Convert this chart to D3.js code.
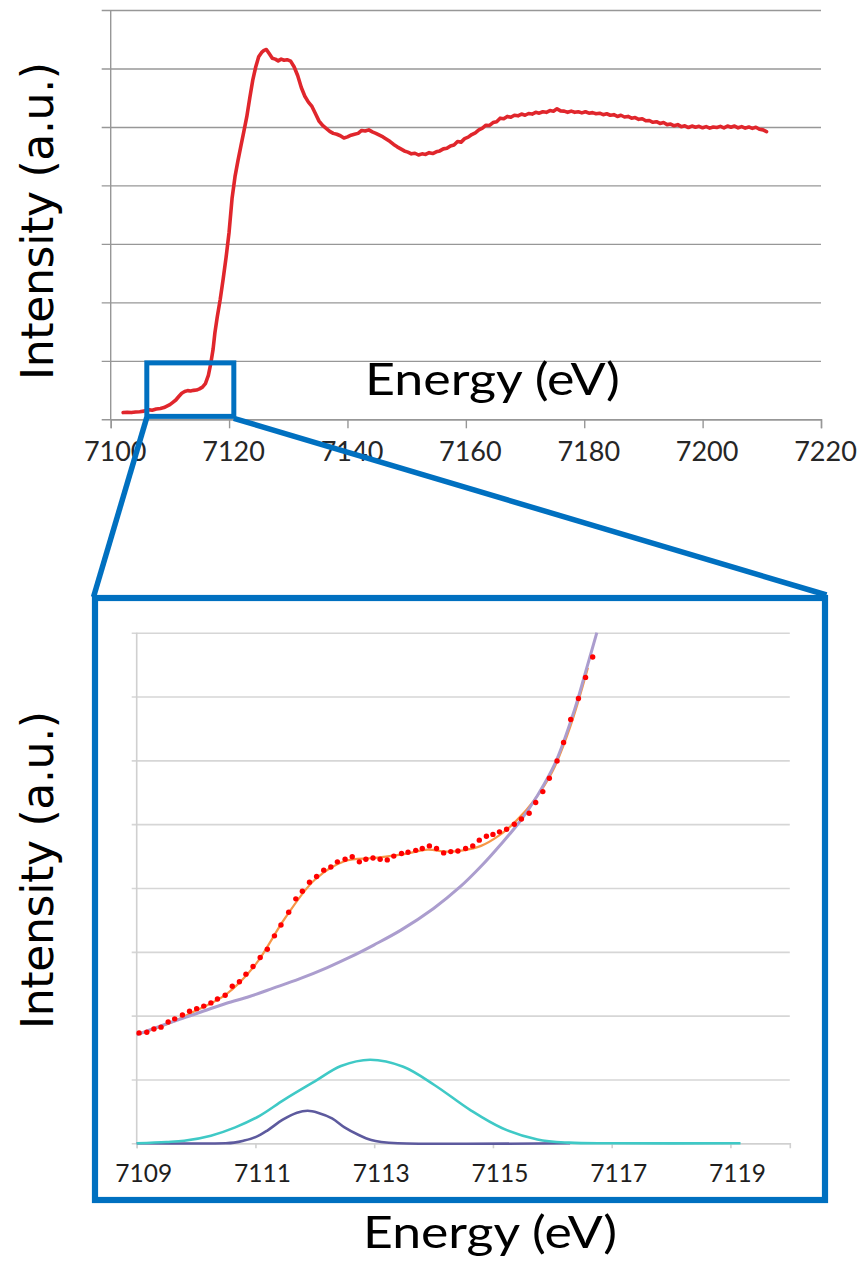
<!DOCTYPE html>
<html>
<head>
<meta charset="utf-8">
<script src="https://cdn.jsdelivr.net/npm/d3@7"></script>
<style>
  html, body { margin: 0; padding: 0; background: #ffffff; }
  svg { display: block; }
</style>
</head>
<body>
<svg id="fig" width="860" height="1263"></svg>
<script>
// ---------- Full Fe K-edge scan (normalised intensity) ----------
const scanEnergy = [
  7102.1, 7102.8, 7103.5, 7104.2, 7104.9, 7105.6, 7106.3, 7107.0, 7107.7, 7108.4,
  7109.0, 7109.5, 7110.0, 7110.5, 7111.0, 7111.5, 7112.0, 7112.5, 7113.0, 7113.5,
  7114.0, 7114.5, 7115.0, 7115.5, 7116.0, 7116.5, 7116.9, 7117.3, 7117.6, 7118.0,
  7118.5, 7119.0, 7119.5, 7120.0, 7120.5, 7121.0, 7121.5, 7122.0, 7122.5, 7123.0,
  7123.5, 7124.0, 7124.5, 7125.0, 7125.5, 7125.9, 7126.3, 7126.8, 7127.3, 7127.8,
  7128.3, 7128.8, 7129.3, 7129.8, 7130.4, 7131.0, 7131.6, 7132.2, 7132.8, 7133.4,
  7134.0, 7134.6, 7135.2, 7135.8, 7136.4, 7137.0, 7137.6, 7138.2, 7138.8, 7139.4,
  7140.0, 7140.6, 7141.2, 7141.8, 7142.4, 7143.0, 7143.6, 7144.2, 7144.8, 7145.4,
  7146.0, 7146.6, 7147.2, 7147.8, 7148.4, 7149.0, 7149.6, 7150.2, 7150.8, 7151.4,
  7152.0, 7152.6, 7153.2, 7153.8, 7154.4, 7155.0, 7155.6, 7156.2, 7156.8, 7157.4,
  7158.0, 7158.6, 7159.2, 7159.8, 7160.4, 7161.0, 7161.6, 7162.2, 7162.8, 7163.4,
  7164.0, 7164.6, 7165.2, 7165.8, 7166.4, 7167.0, 7167.6, 7168.2, 7168.8, 7169.4,
  7170.0, 7170.6, 7171.2, 7171.8, 7172.4, 7173.0, 7173.6, 7174.2, 7174.8, 7175.4,
  7176.0, 7176.6, 7177.2, 7177.8, 7178.4, 7179.0, 7179.6, 7180.2, 7180.8, 7181.4,
  7182.0, 7182.6, 7183.2, 7183.8, 7184.4, 7185.0, 7185.6, 7186.2, 7186.8, 7187.4,
  7188.0, 7188.6, 7189.2, 7189.8, 7190.4, 7191.0, 7191.6, 7192.2, 7192.8, 7193.4,
  7194.0, 7194.6, 7195.2, 7195.8, 7196.4, 7197.0, 7197.6, 7198.2, 7198.8, 7199.4,
  7200.0, 7200.6, 7201.2, 7201.8, 7202.4, 7203.0, 7203.6, 7204.2, 7204.8, 7205.4,
  7206.0, 7206.6, 7207.2, 7207.8, 7208.4, 7209.0, 7209.6, 7210.2, 7210.8
];
const scanIntensity = [
  0.023, 0.024, 0.023, 0.025, 0.026, 0.028, 0.033, 0.031, 0.035, 0.037,
  0.040, 0.045, 0.050, 0.058, 0.066, 0.078, 0.089, 0.095, 0.098, 0.097,
  0.099, 0.100, 0.104, 0.110, 0.122, 0.150, 0.190, 0.240, 0.295, 0.350,
  0.410, 0.480, 0.555, 0.640, 0.755, 0.830, 0.885, 0.935, 0.985, 1.036,
  1.100, 1.160, 1.205, 1.240, 1.255, 1.262, 1.265, 1.250, 1.235, 1.232,
  1.226, 1.232, 1.228, 1.230, 1.225, 1.205, 1.175, 1.135, 1.105, 1.085,
  1.070, 1.045, 1.020, 1.005, 0.995, 0.985, 0.978, 0.975, 0.970, 0.962,
  0.966, 0.972, 0.975, 0.978, 0.988, 0.986, 0.990, 0.983, 0.978, 0.972,
  0.966, 0.958, 0.950, 0.940, 0.932, 0.925, 0.918, 0.914, 0.908, 0.910,
  0.904, 0.908, 0.906, 0.912, 0.909, 0.915, 0.918, 0.925, 0.927, 0.935,
  0.938, 0.950, 0.948, 0.960, 0.965, 0.974, 0.980, 0.990, 0.996, 1.006,
  1.005, 1.015, 1.018, 1.030, 1.028, 1.036, 1.033, 1.040, 1.038, 1.044,
  1.040, 1.046, 1.044, 1.050, 1.047, 1.052, 1.050, 1.056, 1.054, 1.062,
  1.055, 1.054, 1.050, 1.054, 1.050, 1.052, 1.048, 1.052, 1.047, 1.049,
  1.045, 1.047, 1.042, 1.045, 1.040, 1.042, 1.036, 1.040, 1.034, 1.036,
  1.030, 1.032, 1.026, 1.028, 1.021, 1.022, 1.016, 1.018, 1.012, 1.015,
  1.008, 1.010, 1.004, 1.008, 1.001, 1.004, 0.998, 1.003, 0.999, 1.002,
  0.997, 1.001, 0.996, 1.000, 0.998, 1.002, 0.997, 1.003, 0.999, 1.003,
  0.997, 1.001, 0.996, 1.000, 0.995, 0.999, 0.992, 0.990, 0.984
];
const scanTicksX = [7100, 7120, 7140, 7160, 7180, 7200, 7220];
const scanTicksY = [0, 0.2, 0.4, 0.6, 0.8, 1.0, 1.2, 1.4];

// Region of the scan that is expanded below (energy and intensity bounds)
const zoomRegionEnergy = [7106.1, 7120.8];
const zoomRegionIntensity = [0.010, 0.193];

// ---------- Pre-edge region: measured points ----------
const preEdgeEnergy = [
  7109.04, 7109.17, 7109.29, 7109.41, 7109.53, 7109.64, 7109.77, 7109.89, 7110.01, 7110.13,
  7110.25, 7110.36, 7110.49, 7110.61, 7110.73, 7110.84, 7110.96, 7111.08, 7111.20, 7111.32,
  7111.43, 7111.56, 7111.68, 7111.79, 7111.91, 7112.03, 7112.15, 7112.27, 7112.38, 7112.51,
  7112.63, 7112.75, 7112.86, 7112.98, 7113.10, 7113.22, 7113.33, 7113.46, 7113.57, 7113.70,
  7113.81, 7113.93, 7114.05, 7114.17, 7114.29, 7114.41, 7114.54, 7114.66, 7114.77, 7114.89,
  7115.00, 7115.11, 7115.23, 7115.36, 7115.48, 7115.61, 7115.72, 7115.84, 7115.95, 7116.08,
  7116.19, 7116.31, 7116.44, 7116.56, 7116.68
];
const preEdgeIntensity = [
  0.173, 0.174, 0.179, 0.182, 0.190, 0.195, 0.201, 0.207, 0.211, 0.215,
  0.220, 0.226, 0.232, 0.246, 0.253, 0.265, 0.277, 0.291, 0.304, 0.325,
  0.342, 0.362, 0.383, 0.395, 0.409, 0.418, 0.428, 0.433, 0.441, 0.445,
  0.449, 0.441, 0.445, 0.447, 0.445, 0.444, 0.450, 0.454, 0.456, 0.459,
  0.462, 0.466, 0.462, 0.455, 0.457, 0.458, 0.462, 0.466, 0.475, 0.481,
  0.484, 0.488, 0.492, 0.500, 0.508, 0.517, 0.534, 0.551, 0.572, 0.599,
  0.628, 0.664, 0.697, 0.730, 0.762
];

// Total fit (background + two pre-edge components)
const fitEnergy = [
  7109.0, 7109.5, 7110.0, 7110.5, 7111.0, 7111.5, 7112.0, 7112.5, 7113.0, 7113.5,
  7113.9, 7114.2, 7114.5, 7114.8, 7115.1, 7115.4, 7115.7, 7116.0, 7116.3, 7116.6
];
const fitIntensity = [
  0.170, 0.186, 0.208, 0.233, 0.280, 0.353, 0.413, 0.442, 0.447, 0.453,
  0.460, 0.457, 0.459, 0.466, 0.482, 0.506, 0.538, 0.582, 0.652, 0.745
];

// Edge background
const backgroundEnergy = [
  7109.0, 7109.5, 7110.0, 7110.5, 7110.9, 7111.3, 7111.75, 7112.2, 7112.6, 7113.0,
  7113.45, 7114.0, 7114.45, 7114.8, 7115.12, 7115.46, 7115.75, 7116.05, 7116.38, 7116.55,
  7116.75
];
const backgroundIntensity = [
  0.170, 0.187, 0.203, 0.219, 0.230, 0.243, 0.258, 0.275, 0.292, 0.311,
  0.334, 0.368, 0.402, 0.434, 0.467, 0.505, 0.545, 0.596, 0.681, 0.735,
  0.800
];

// Broad pre-edge component
const peakBroadEnergy = [
  7109.0, 7109.5, 7109.8, 7110.25, 7110.66, 7111.07, 7111.48, 7112.0, 7112.44, 7112.93,
  7113.49, 7114.02, 7114.62, 7115.15, 7115.75, 7116.28, 7117.0, 7119.17
];
const peakBroadIntensity = [
  0.000, 0.002, 0.004, 0.012, 0.025, 0.043, 0.068, 0.097, 0.121, 0.131,
  0.120, 0.091, 0.052, 0.024, 0.006, 0.001, 0.000, 0.000
];

// Narrow pre-edge component
const peakNarrowEnergy = [
  7109.0, 7110.5, 7110.64, 7110.8, 7111.01, 7111.2, 7111.46, 7111.7, 7111.88, 7112.05,
  7112.29, 7112.5, 7112.74, 7112.95, 7113.12, 7113.4, 7116.3
];
const peakNarrowIntensity = [
  0.000, 0.000, 0.001, 0.004, 0.010, 0.020, 0.037, 0.048, 0.051, 0.048,
  0.039, 0.025, 0.013, 0.005, 0.002, 0.000, 0.000
];

const zoomTicksX = [7109, 7111, 7113, 7115, 7117, 7119];
const zoomTicksY = [0, 0.1, 0.2, 0.3, 0.4, 0.5, 0.6, 0.7, 0.8];

// ---------- Drawing ----------
const svg = d3.select("#fig");
const zip = (xs, ys) => xs.map((x, i) => ({ e: x, v: ys[i] }));

const labelFont = "Lato, 'Open Sans', sans-serif";
const titleFont = "'DejaVu Sans', Verdana, sans-serif";
const blue = "#0070c0";

// ===== Upper chart: full scan =====
const xTop = d3.scaleLinear().domain([7100, 7220]).range([110.7, 821]);
const yTop = d3.scaleLinear().domain([0, 1.4]).range([419.3, 10]);

const topGrid = svg.append("g")
  .attr("transform", `translate(101.7,0)`)
  .call(d3.axisLeft(yTop).tickValues(scanTicksY).tickFormat("")
        .tickSize(-(xTop.range()[1] - 101.7)));
topGrid.select(".domain").remove();
topGrid.selectAll("line").attr("stroke", "#979797").attr("stroke-width", 1.4);

// vertical value axis line
svg.append("line")
  .attr("x1", xTop.range()[0]).attr("x2", xTop.range()[0])
  .attr("y1", yTop(1.4)).attr("y2", yTop(0))
  .attr("stroke", "#979797").attr("stroke-width", 1.4);

const topAxis = svg.append("g")
  .attr("transform", `translate(0,${yTop(0)})`)
  .call(d3.axisBottom(xTop).tickValues(scanTicksX).tickSize(9).tickFormat(d3.format("d")));
topAxis.select(".domain").attr("stroke", "#979797").attr("stroke-width", 1.4);
topAxis.selectAll(".tick line").attr("stroke", "#979797").attr("stroke-width", 1.4);
topAxis.selectAll("text")
  .attr("y", 41.7).attr("dy", null).attr("x", 4)
  .attr("fill", "#262626")
  .style("font-family", labelFont).style("font-size", "27px");

const topLine = d3.line().x(d => xTop(d.e)).y(d => yTop(d.v));
svg.append("path")
  .datum(zip(scanEnergy, scanIntensity))
  .attr("d", topLine)
  .attr("fill", "none").attr("stroke", "#e0262c")
  .attr("stroke-width", 3.6).attr("stroke-linejoin", "round").attr("stroke-linecap", "round");

svg.append("text")
  .attr("x", 365).attr("y", 395)
  .attr("textLength", 255).attr("lengthAdjust", "spacingAndGlyphs")
  .style("font-family", labelFont).style("font-size", "45px").attr("fill", "#000")
  .text("Energy (eV)");

svg.append("text")
  .attr("transform", "translate(53,221) rotate(-90)")
  .attr("text-anchor", "middle")
  .attr("textLength", 318).attr("lengthAdjust", "spacing")
  .style("font-family", titleFont).style("font-size", "44px").attr("fill", "#000")
  .text("Intensity (a.u.)");

// ===== Lower chart: pre-edge fit =====
const xZoom = d3.scaleLinear().domain([7109, 7120]).range([136.7, 789.8]);
const yZoom = d3.scaleLinear().domain([0, 0.8]).range([1143.3, 632.7]);

const zoomGrid = svg.append("g")
  .attr("transform", `translate(131.7,0)`)
  .call(d3.axisLeft(yZoom).tickValues(zoomTicksY).tickFormat("")
        .tickSize(-(xZoom.range()[1] - 131.7)));
zoomGrid.select(".domain").remove();
zoomGrid.selectAll("line").attr("stroke", "#d6d6d6").attr("stroke-width", 1.6);

svg.append("line")
  .attr("x1", xZoom.range()[0]).attr("x2", xZoom.range()[0])
  .attr("y1", yZoom(0.8)).attr("y2", yZoom(0))
  .attr("stroke", "#d0d0d0").attr("stroke-width", 1.6);

const zoomAxis = svg.append("g")
  .attr("transform", `translate(0,${yZoom(0)})`)
  .call(d3.axisBottom(xZoom).tickValues(zoomTicksX).tickSize(5).tickFormat(d3.format("d")));
zoomAxis.select(".domain").attr("stroke", "#d0d0d0").attr("stroke-width", 1.6);
zoomAxis.selectAll(".tick line").attr("stroke", "#d0d0d0").attr("stroke-width", 1.6);
zoomAxis.selectAll("text")
  .attr("y", 38.4).attr("dy", null).attr("x", 6.5)
  .attr("fill", "#1e1e1e")
  .style("font-family", labelFont).style("font-size", "24.5px");

const zoomLine = d3.line().x(d => xZoom(d.e)).y(d => yZoom(d.v))
  .curve(d3.curveCatmullRom.alpha(0.5));

svg.append("path").datum(zip(peakNarrowEnergy, peakNarrowIntensity))
  .attr("d", zoomLine).attr("fill", "none")
  .attr("stroke", "#5d5a9e").attr("stroke-width", 2.6);

svg.append("path").datum(zip(peakBroadEnergy, peakBroadIntensity))
  .attr("d", zoomLine).attr("fill", "none")
  .attr("stroke", "#3fc9c6").attr("stroke-width", 2.6);

svg.append("path").datum(zip(fitEnergy, fitIntensity))
  .attr("d", zoomLine).attr("fill", "none")
  .attr("stroke", "#f79646").attr("stroke-width", 2.2);

svg.append("path").datum(zip(backgroundEnergy, backgroundIntensity))
  .attr("d", zoomLine).attr("fill", "none")
  .attr("stroke", "#ab9dce").attr("stroke-width", 3);

svg.append("g").selectAll("circle")
  .data(zip(preEdgeEnergy, preEdgeIntensity))
  .join("circle")
  .attr("cx", d => xZoom(d.e)).attr("cy", d => yZoom(d.v))
  .attr("r", 2.7).attr("fill", "#ff0000");

svg.append("text")
  .attr("x", 363).attr("y", 1248)
  .attr("textLength", 254).attr("lengthAdjust", "spacingAndGlyphs")
  .style("font-family", labelFont).style("font-size", "45px").attr("fill", "#000")
  .text("Energy (eV)");

svg.append("text")
  .attr("transform", "translate(53,870) rotate(-90)")
  .attr("text-anchor", "middle")
  .attr("textLength", 318).attr("lengthAdjust", "spacing")
  .style("font-family", titleFont).style("font-size", "44px").attr("fill", "#000")
  .text("Intensity (a.u.)");

// ===== Zoom indicator: box on the scan, frame round the lower chart, connectors =====
const bx0 = xTop(zoomRegionEnergy[0]), bx1 = xTop(zoomRegionEnergy[1]);
const by0 = yTop(zoomRegionIntensity[1]), by1 = yTop(zoomRegionIntensity[0]);

svg.append("rect")
  .attr("x", bx0).attr("y", by0).attr("width", bx1 - bx0).attr("height", by1 - by0)
  .attr("fill", "none").attr("stroke", blue).attr("stroke-width", 5);

const frame = { x: 95, y: 598, w: 730, h: 602 };
svg.append("rect")
  .attr("x", frame.x).attr("y", frame.y).attr("width", frame.w).attr("height", frame.h)
  .attr("fill", "none").attr("stroke", blue).attr("stroke-width", 6.2);

svg.append("line")
  .attr("x1", bx0).attr("y1", by1 + 1).attr("x2", frame.x - 1.5).attr("y2", frame.y - 1)
  .attr("stroke", blue).attr("stroke-width", 5.5);
svg.append("line")
  .attr("x1", bx1).attr("y1", by1 + 2).attr("x2", frame.x + frame.w + 1.5).attr("y2", frame.y - 3)
  .attr("stroke", blue).attr("stroke-width", 5.5);
</script>
</body>
</html>
